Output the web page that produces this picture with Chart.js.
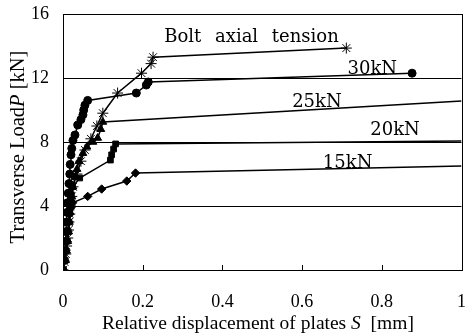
<!DOCTYPE html>
<html><head><meta charset="utf-8">
<script src="https://cdn.jsdelivr.net/npm/chart.js@4/dist/chart.umd.min.js"></script>
<style>html,body{margin:0;padding:0;background:#fff}#wrap{width:468px;height:336px}</style>
</head><body><div id="wrap"><canvas id="c" width="468" height="336"></canvas></div>
<script>
// Series data: relative displacement S [mm] (x) and transverse load P [kN] (y)
const boltX = [0, 0.004, 0.007, 0.009, 0.012, 0.014, 0.015, 0.017, 0.019, 0.022, 0.025, 0.035, 0.045, 0.055, 0.07, 0.085, 0.1, 0.137, 0.197, 0.221, 0.226, 0.711];
const boltY = [0, 0.5, 1, 1.5, 2, 2.5, 3, 3.5, 4, 4.6, 5.2, 6.0, 6.8, 7.5, 8.2, 9.0, 9.8, 11.06, 12.3, 12.9, 13.3, 13.87];
const kN30X = [0, 0.003, 0.005, 0.006, 0.008, 0.009, 0.01, 0.011, 0.013, 0.015, 0.017, 0.018, 0.02, 0.022, 0.025, 0.03, 0.037, 0.045, 0.05, 0.052, 0.055, 0.062, 0.184, 0.209, 0.214, 0.876];
const kN30Y = [0, 0.6, 1.2, 1.8, 2.4, 3, 3.6, 4.2, 4.8, 5.4, 6.0, 6.6, 7.2, 7.6, 8.1, 8.44, 9.06, 9.4, 9.7, 10.0, 10.3, 10.6, 11.06, 11.56, 11.75, 12.3];
const kN25X = [0, 0.006, 0.009, 0.012, 0.014, 0.016, 0.018, 0.02, 0.022, 0.025, 0.03, 0.035, 0.04, 0.05, 0.06, 0.075, 0.087, 0.095, 0.1, 1.0];
const kN25Y = [0, 0.6, 1.2, 1.8, 2.4, 3, 3.6, 4.2, 4.6, 5.2, 5.8, 6.3, 6.8, 7.3, 7.7, 8.0, 8.25, 8.8, 9.25, 10.56];
const kN20X = [0, 0.005, 0.008, 0.011, 0.013, 0.015, 0.017, 0.019, 0.021, 0.024, 0.042, 0.119, 0.122, 0.127, 0.132, 1.0];
const kN20Y = [0, 0.6, 1.2, 1.8, 2.4, 3, 3.6, 4.2, 4.7, 5.2, 5.75, 6.87, 7.2, 7.56, 7.88, 8.06];
const kN15X = [0, 0.004, 0.007, 0.01, 0.012, 0.015, 0.017, 0.02, 0.024, 0.062, 0.097, 0.16, 0.182, 1.0];
const kN15Y = [0, 0.6, 1.2, 1.8, 2.4, 3, 3.5, 3.9, 4.2, 4.6, 5.06, 5.56, 6.06, 6.5];

const xTicks = [0, 0.2, 0.4, 0.6, 0.8, 1];
const yTicks = [0, 4, 8, 12, 16];

// Annotation labels (text, x, y in data units)
const labelText = ["Bolt axial tension", "30kN", "25kN", "20kN", "15kN"];
const labelX = [0.254, 0.714, 0.575, 0.771, 0.652];
const labelY = [14.25, 12.25, 10.19, 8.44, 6.375];

const pts = (xs, ys) => xs.map((x, i) => ({x: x, y: ys[i]}));
const ds = (label, xs, ys, style, r) => ({
  label, data: pts(xs, ys), borderColor: '#000', backgroundColor: '#000',
  borderWidth: 1.5, pointStyle: style,
  pointRadius: c => (c.raw && c.raw.x >= 1) ? 0 : r,
  pointBorderWidth: 1,
  pointBackgroundColor: '#000', pointBorderColor: '#000', tension: 0, showLine: true
});

const deco = {
  id: 'deco',
  afterDraw(chart) {
    const {ctx, chartArea: a, scales: {x, y}} = chart;
    ctx.save();
    ctx.strokeStyle = '#000'; ctx.lineWidth = 1;
    ctx.strokeRect(Math.round(a.left) + 0.5, Math.round(a.top) + 0.5, Math.round(a.right - a.left), Math.round(a.bottom - a.top));
    xTicks.forEach(v => {
      const px = Math.round(x.getPixelForValue(v)) + 0.5;
      ctx.beginPath(); ctx.moveTo(px, a.bottom); ctx.lineTo(px, a.bottom - 5); ctx.stroke();
    });
    ctx.fillStyle = '#000';
    ctx.font = '18px "DejaVu Serif"';
    ctx.textBaseline = 'alphabetic'; ctx.textAlign = 'left';
    labelText.forEach((t, i) => {
      try { ctx.wordSpacing = i === 0 ? '8px' : '0px'; } catch (e) {}
      ctx.fillText(t, x.getPixelForValue(labelX[i]), y.getPixelForValue(labelY[i]));
    });
    try { ctx.wordSpacing = '0px'; } catch (e) {}
    const f = '19.5px "Liberation Serif"', fi = 'italic 19.5px "Liberation Serif"';
    const parts = [["Relative displacement of plates ", f], ["S", fi], ["  [mm]", f]];
    let cx = 102;
    parts.forEach(p => { ctx.font = p[1]; ctx.fillText(p[0], cx, 329); cx += ctx.measureText(p[0]).width; });
    const yf = '20.5px "Liberation Serif"', yfi = 'italic 20.5px "Liberation Serif"';
    const yparts = [["Transverse Load", yf], ["P", yfi], [" [kN]", yf]];
    let w = 0;
    yparts.forEach(p => { ctx.font = p[1]; w += ctx.measureText(p[0]).width; });
    ctx.translate(24, 147);
    ctx.rotate(-Math.PI / 2);
    cx = -w / 2;
    yparts.forEach(p => { ctx.font = p[1]; ctx.fillText(p[0], cx, 0); cx += ctx.measureText(p[0]).width; });
    ctx.restore();
  }
};

new Chart(document.getElementById('c'), {
  type: 'scatter',
  data: {
    datasets: [
      ds('Bolt', boltX, boltY, 'star', 5.5),
      ds('30kN', kN30X, kN30Y, 'circle', 4),
      ds('25kN', kN25X, kN25Y, 'triangle', 4.5),
      ds('20kN', kN20X, kN20Y, 'rect', 4),
      ds('15kN', kN15X, kN15Y, 'rectRot', 4.2)
    ]
  },
  options: {
    responsive: false, animation: false,
    layout: {padding: {left: 0, right: 3, top: 14, bottom: 0}},
    plugins: {legend: {display: false}, tooltip: {enabled: false}},
    scales: {
      x: {
        type: 'linear', min: 0, max: 1,
        afterBuildTicks: s => { s.ticks = xTicks.map(v => ({value: v})); },
        afterFit: s => { s.height = 66; s.paddingLeft = 0; s.paddingRight = 0; },
        grid: {display: false, drawTicks: false},
        border: {display: false},
        ticks: {color: '#000', font: {family: 'Liberation Serif', size: 18}, padding: 21, maxRotation: 0, autoSkip: false,
          callback: v => String(v)}
      },
      y: {
        type: 'linear', min: 0, max: 16,
        afterBuildTicks: s => { s.ticks = yTicks.map(v => ({value: v})); },
        afterFit: s => { s.width = 63; s.paddingTop = 0; s.paddingBottom = 0; },
        grid: {color: '#000', lineWidth: 1, drawTicks: false},
        border: {display: false},
        ticks: {color: '#000', font: {family: 'Liberation Serif', size: 18}, padding: 14}
      }
    }
  },
  plugins: [deco]
});
</script></body></html>
